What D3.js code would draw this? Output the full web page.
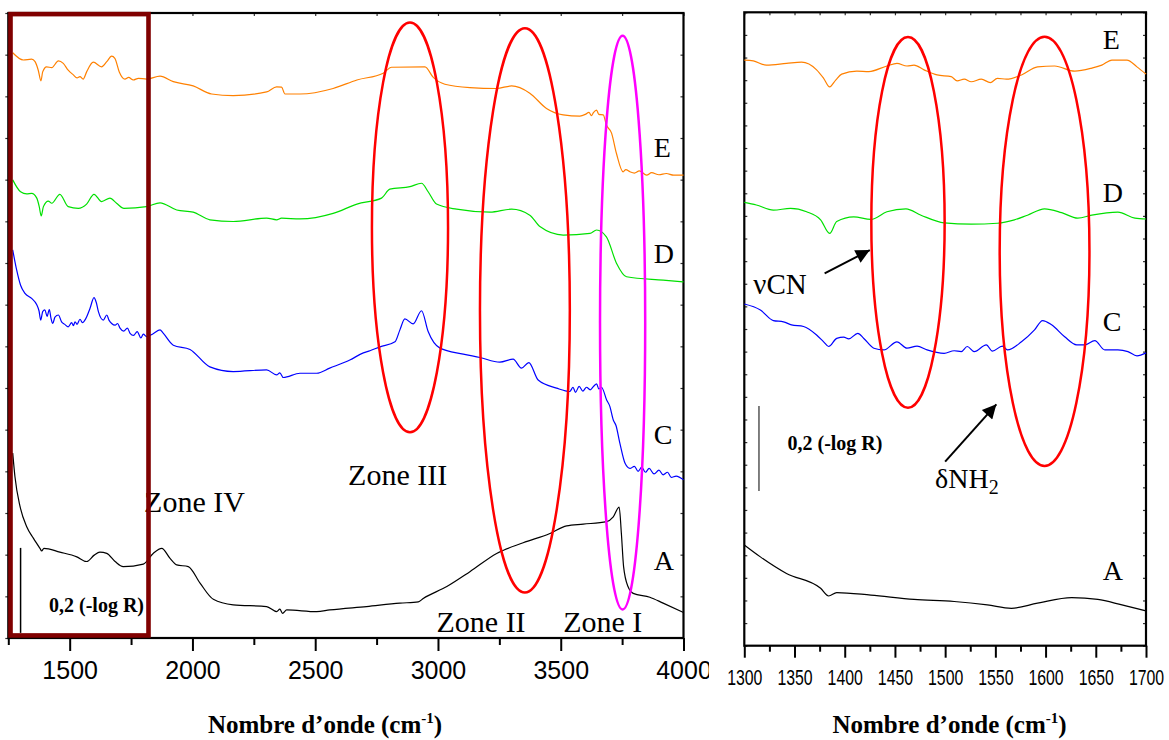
<!DOCTYPE html>
<html><head><meta charset="utf-8">
<script src="https://cdn.jsdelivr.net/npm/d3@7"></script>
<style>body{margin:0;background:#fff}svg{display:block}</style>
</head><body>
<svg id="c" width="1169" height="740"></svg>
<script>
// ---------- DATA (wavenumber cm-1, -log R with arbitrary offsets) ----------
const leftXDomain = [1250, 4000];
const leftYDomain = [0, 1.4706];
const rightXDomain = [1300, 1700];
const rightYDomain = [0, 1.4904];

const leftMajorTicks = [1500, 2000, 2500, 3000, 3500, 4000];
const leftMinorTicks = [1250, 1750, 2250, 2750, 3250, 3750];
const rightMajorTicks = [1300, 1350, 1400, 1450, 1500, 1550, 1600, 1650, 1700];
const rightMinorTicks = [1325, 1375, 1425, 1475, 1525, 1575, 1625, 1675];
const leftYTickCount = 15;
const rightYTickCount = 28;

const seriesNames = ["E", "D", "C", "A"];
const seriesColors = ["#ff8000", "#00e000", "#0000ff", "#000000"];

const fullE = [[1268,1.377],[1311,1.360],[1345,1.362],[1359,1.356],[1372,1.336],[1383,1.311],[1390,1.332],[1406,1.344],[1427,1.342],[1454,1.358],[1474,1.352],[1494,1.336],[1515,1.325],[1530,1.318],[1542,1.321],[1555,1.315],[1569,1.332],[1596,1.355],[1630,1.344],[1651,1.356],[1671,1.369],[1684,1.364],[1702,1.332],[1725,1.315],[1740,1.319],[1759,1.313],[1780,1.317],[1813,1.315],[1868,1.322],[1922,1.309],[2003,1.299],[2078,1.280],[2166,1.276],[2302,1.285],[2343,1.297],[2363,1.296],[2377,1.280],[2438,1.280],[2573,1.293],[2670,1.313],[2777,1.329],[2811,1.343],[2947,1.344],[2981,1.319],[3028,1.303],[3130,1.295],[3239,1.293],[3300,1.299],[3374,1.282],[3442,1.246],[3510,1.231],[3578,1.228],[3600,1.232],[3615,1.237],[3625,1.229],[3633,1.236],[3646,1.242],[3655,1.232],[3673,1.231],[3686,1.207],[3707,1.188],[3727,1.140],[3754,1.097],[3765,1.102],[3782,1.097],[3800,1.094],[3820,1.099],[3850,1.089],[3870,1.095],[3900,1.090],[3930,1.093],[3960,1.089],[4000,1.089]];
const fullD = [[1268,1.078],[1300,1.050],[1325,1.045],[1345,1.046],[1366,1.035],[1376,1.015],[1384,0.993],[1393,1.015],[1413,1.028],[1427,1.023],[1460,1.044],[1494,1.015],[1535,1.011],[1569,1.021],[1599,1.044],[1630,1.027],[1664,1.035],[1691,1.023],[1721,1.011],[1813,1.015],[1868,1.024],[1936,1.007],[2003,1.002],[2071,0.984],[2166,0.980],[2302,0.988],[2343,0.984],[2363,0.988],[2438,0.986],[2573,0.999],[2670,1.021],[2770,1.035],[2804,1.056],[2886,1.062],[2933,1.070],[2960,1.050],[2994,1.021],[3076,1.009],[3212,1.002],[3300,1.009],[3374,0.995],[3415,0.968],[3510,0.948],[3619,0.952],[3646,0.960],[3686,0.944],[3727,0.882],[3768,0.850],[3917,0.842],[4000,0.838]];
const fullC = [[1268,0.913],[1284,0.866],[1300,0.830],[1318,0.811],[1345,0.799],[1366,0.784],[1375,0.770],[1382,0.748],[1390,0.768],[1399,0.772],[1408,0.757],[1417,0.773],[1424,0.752],[1431,0.740],[1440,0.755],[1454,0.760],[1467,0.744],[1480,0.738],[1494,0.732],[1508,0.742],[1515,0.735],[1522,0.744],[1530,0.738],[1542,0.750],[1552,0.742],[1566,0.752],[1583,0.776],[1599,0.801],[1608,0.790],[1617,0.768],[1637,0.748],[1651,0.760],[1660,0.748],[1671,0.740],[1685,0.736],[1695,0.740],[1705,0.729],[1720,0.722],[1735,0.729],[1746,0.717],[1760,0.712],[1775,0.721],[1790,0.706],[1800,0.715],[1813,0.709],[1840,0.716],[1868,0.725],[1880,0.718],[1922,0.689],[1990,0.679],[2071,0.638],[2166,0.627],[2302,0.631],[2343,0.619],[2356,0.624],[2370,0.613],[2438,0.623],[2506,0.623],[2559,0.635],[2641,0.654],[2696,0.671],[2723,0.676],[2764,0.685],[2825,0.697],[2845,0.725],[2865,0.751],[2899,0.739],[2933,0.770],[2960,0.721],[3008,0.682],[3103,0.668],[3171,0.660],[3252,0.649],[3306,0.656],[3340,0.635],[3370,0.648],[3408,0.607],[3483,0.588],[3537,0.580],[3550,0.590],[3560,0.578],[3575,0.592],[3590,0.581],[3605,0.590],[3620,0.584],[3635,0.593],[3646,0.598],[3655,0.586],[3666,0.590],[3687,0.560],[3700,0.545],[3714,0.513],[3725,0.500],[3741,0.458],[3762,0.411],[3782,0.399],[3800,0.404],[3815,0.392],[3830,0.402],[3845,0.390],[3860,0.399],[3880,0.386],[3900,0.395],[3917,0.384],[3935,0.390],[3950,0.378],[3970,0.381],[4000,0.372]];
const fullA = [[1268,0.435],[1277,0.380],[1298,0.309],[1325,0.262],[1352,0.235],[1379,0.211],[1386,0.205],[1395,0.211],[1460,0.202],[1529,0.191],[1569,0.180],[1600,0.195],[1623,0.202],[1651,0.199],[1685,0.180],[1718,0.168],[1800,0.174],[1840,0.199],[1875,0.211],[1908,0.188],[1936,0.172],[1983,0.168],[2031,0.129],[2085,0.091],[2166,0.078],[2302,0.074],[2343,0.062],[2356,0.068],[2367,0.058],[2384,0.066],[2506,0.062],[2559,0.066],[2709,0.074],[2845,0.082],[2920,0.085],[2940,0.093],[3036,0.121],[3130,0.156],[3239,0.199],[3347,0.224],[3456,0.246],[3524,0.264],[3592,0.268],[3687,0.274],[3714,0.285],[3738,0.308],[3747,0.246],[3756,0.168],[3774,0.121],[3795,0.105],[3863,0.096],[3917,0.082],[4000,0.060]];

const zoomE = [[1300,1.378],[1309,1.376],[1322,1.366],[1342,1.370],[1357,1.373],[1372,1.355],[1379,1.335],[1385,1.315],[1391,1.331],[1397,1.345],[1412,1.352],[1424,1.351],[1442,1.364],[1452,1.370],[1462,1.364],[1469,1.366],[1479,1.355],[1492,1.343],[1506,1.339],[1512,1.329],[1519,1.333],[1526,1.327],[1536,1.333],[1545,1.325],[1552,1.335],[1561,1.333],[1576,1.343],[1592,1.362],[1609,1.364],[1629,1.352],[1646,1.359],[1656,1.366],[1666,1.378],[1681,1.378],[1691,1.362],[1700,1.345]];
const zoomD = [[1300,1.043],[1312,1.037],[1329,1.025],[1346,1.029],[1362,1.021],[1376,1.002],[1385,0.970],[1392,0.998],[1409,1.009],[1426,1.003],[1442,1.021],[1461,1.028],[1476,1.013],[1499,0.995],[1526,0.992],[1552,0.994],[1569,1.002],[1582,1.013],[1599,1.028],[1616,1.019],[1632,1.006],[1646,1.013],[1672,1.020],[1689,1.006],[1700,1.004]];
const zoomC = [[1300,0.804],[1316,0.790],[1329,0.765],[1339,0.762],[1347,0.755],[1359,0.751],[1372,0.731],[1379,0.715],[1384,0.704],[1392,0.723],[1399,0.726],[1404,0.722],[1413,0.735],[1419,0.723],[1429,0.700],[1439,0.696],[1452,0.715],[1462,0.700],[1472,0.705],[1482,0.696],[1499,0.688],[1509,0.694],[1516,0.692],[1522,0.704],[1529,0.692],[1541,0.708],[1547,0.693],[1557,0.705],[1562,0.696],[1576,0.715],[1589,0.743],[1597,0.765],[1606,0.755],[1619,0.727],[1631,0.708],[1639,0.708],[1649,0.718],[1659,0.696],[1672,0.696],[1682,0.692],[1691,0.682],[1700,0.689]];
const zoomA = [[1300,0.237],[1316,0.209],[1342,0.170],[1376,0.135],[1384,0.117],[1392,0.125],[1426,0.119],[1469,0.109],[1509,0.104],[1542,0.096],[1566,0.088],[1592,0.100],[1626,0.113],[1652,0.109],[1676,0.096],[1700,0.082]];

// annotations in data units
const leftLetterPos = [[3879,1.132],[3879,0.882],[3879,0.456],[3879,0.160]];
const rightLetterPos = [[1657,1.403],[1657,1.043],[1657,0.741],[1657,0.155]];
const zoneLabels = ["Zone IV", "Zone III", "Zone II", "Zone I"];
const zonePos = [[1803,0.297],[2634,0.360],[2994,0.015],[3510,0.015]];
// ellipses: [centre wavenumber, centre value, half-width wn, half-height value]
const leftEllipses = [[2886,0.966,155,0.482],[3354,0.771,183,0.664],[3752,0.742,92,0.675]];
const leftEllipseColors = ["#ff0000", "#ff0000", "#ff00ff"];
const rightEllipses = [[1463,0.996,36.5,0.436],[1599,0.928,44.7,0.505]];
const scaleBarLength = 0.2;

// ---------- DRAW ----------
const svg = d3.select("#c");
const serif = "'Liberation Serif','Times New Roman',serif";
const sans = "'Liberation Sans',Arial,sans-serif";

const defs = svg.append("defs");
defs.append("clipPath").attr("id", "clipL").append("rect")
  .attr("x", 0).attr("y", 0).attr("width", 709).attr("height", 740);
defs.append("marker").attr("id", "arr").attr("viewBox", "0 0 10 10")
  .attr("refX", 10).attr("refY", 5).attr("markerWidth", 16).attr("markerHeight", 14)
  .attr("markerUnits", "userSpaceOnUse").attr("orient", "auto")
  .append("path").attr("d", "M0,0 L10,5 L0,10 Z").attr("fill", "#000");

const xL = d3.scaleLinear().domain(leftXDomain).range([8.3, 683.5]);
const yL = d3.scaleLinear().domain(leftYDomain).range([638, 13]);
const xR = d3.scaleLinear().domain(rightXDomain).range([744.3, 1146]);
const yR = d3.scaleLinear().domain(rightYDomain).range([645.7, 12.3]);

function panel(g, x, y, o) {
  const [x0, x1] = x.range(), [y0, y1] = y.range();
  const yTicks = d3.range(o.yCount + 1).map(i => y.domain()[1] * i / o.yCount);
  const gMin = g.append("g").attr("transform", `translate(0,${y0})`)
    .call(d3.axisBottom(x).tickValues(o.minor).tickSize(o.minLen).tickFormat(""));
  const gMaj = g.append("g").attr("transform", `translate(0,${y0})`)
    .call(d3.axisBottom(x).tickValues(o.major).tickSize(o.majLen).tickPadding(o.pad).tickFormat(d3.format("d")));
  [gMin, gMaj].forEach(a => { a.select(".domain").remove(); a.selectAll("line").attr("stroke", "#000").attr("stroke-width", 2); });
  gMaj.selectAll("text").attr("font-family", sans).attr("font-size", o.fs).attr("fill", "#000");
  if (o.narrow) gMaj.selectAll("text").attr("transform", `scale(${o.narrow},1)`);
  const gTop = g.append("g").attr("transform", `translate(0,${y1})`)
    .call(d3.axisTop(x).tickValues(o.minor.concat(o.major)).tickSize(-3).tickFormat(""));
  const gLeft = g.append("g").attr("transform", `translate(${x0},0)`)
    .call(d3.axisLeft(y).tickValues(yTicks).tickSize(o.leftOut ? 3 : -3).tickFormat(""));
  const gRight = g.append("g").attr("transform", `translate(${x1},0)`)
    .call(d3.axisRight(y).tickValues(yTicks).tickSize(-3).tickFormat(""));
  [gTop, gLeft, gRight].forEach(a => { a.select(".domain").remove(); a.selectAll("line").attr("stroke", "#333").attr("stroke-width", 1.2); });
  g.append("rect").attr("x", x0).attr("y", y1).attr("width", x1 - x0).attr("height", y0 - y1)
    .attr("fill", "none").attr("stroke", "#000").attr("stroke-width", 2.2);
  const line = d3.line().x(d => x(d[0])).y(d => y(d[1])).curve(d3.curveMonotoneX);
  o.series.forEach((s, i) => {
    g.append("path").datum(s).attr("d", line).attr("fill", "none")
      .attr("stroke", seriesColors[i]).attr("stroke-width", 1.2).attr("stroke-linejoin", "round");
  });
  o.letters.forEach((p, i) => {
    g.append("text").attr("x", x(p[0])).attr("y", y(p[1])).text(seriesNames[i])
      .attr("font-family", serif).attr("font-size", 28).attr("fill", "#000");
  });
  o.ellipses.forEach((e, i) => {
    g.append("ellipse").attr("cx", x(e[0])).attr("cy", y(e[1]))
      .attr("rx", x(e[0] + e[2]) - x(e[0])).attr("ry", y(e[1] - e[3]) - y(e[1]))
      .attr("fill", "none").attr("stroke", o.ellColors[i]).attr("stroke-width", 2.5);
  });
  g.append("line").attr("x1", x(o.bar[0])).attr("x2", x(o.bar[0]))
    .attr("y1", y(o.bar[1])).attr("y2", y(o.bar[1] + scaleBarLength))
    .attr("stroke", o.barColor).attr("stroke-width", 1.5);
  g.append("text").attr("x", x(o.barLabel[0])).attr("y", y(o.barLabel[1]))
    .text("0,2 (-log R)").attr("font-family", serif).attr("font-weight", "bold")
    .attr("font-size", 20).attr("fill", "#000");
  const t = g.append("text").attr("x", o.titleX).attr("y", 733).attr("text-anchor", "middle")
    .attr("font-family", serif).attr("font-weight", "bold").attr("font-size", 25).attr("fill", "#000");
  t.append("tspan").text("Nombre d\u2019onde (cm");
  t.append("tspan").attr("dy", -10).attr("font-size", 15).text("-1");
  t.append("tspan").attr("dy", 10).text(")");
}

const gl = svg.append("g").attr("clip-path", "url(#clipL)");
panel(gl, xL, yL, {
  major: leftMajorTicks, minor: leftMinorTicks, minLen: 7, majLen: 13, pad: 10.7, fs: 25,
  yCount: leftYTickCount, leftOut: true,
  series: [fullE, fullD, fullC, fullA], letters: leftLetterPos,
  ellipses: leftEllipses, ellColors: leftEllipseColors,
  bar: [1300, 0.012], barColor: "#000", barLabel: [1416, 0.062], titleX: 325
});
zoneLabels.forEach((z, i) => {
  gl.append("text").attr("x", xL(zonePos[i][0])).attr("y", yL(zonePos[i][1])).text(z)
    .attr("font-family", serif).attr("font-size", 30).attr("fill", "#000");
});
gl.append("rect").attr("x", xL(1259)).attr("y", yL(1.468))
  .attr("width", xL(1821) - xL(1259)).attr("height", yL(0.006) - yL(1.468))
  .attr("fill", "none").attr("stroke", "#800000").attr("stroke-width", 4.6);

const gr = svg.append("g");
panel(gr, xR, yR, {
  major: rightMajorTicks, minor: rightMinorTicks, minLen: 6, majLen: 12, pad: 11.3, fs: 22, narrow: 0.72,
  yCount: rightYTickCount, leftOut: false,
  series: [zoomE, zoomD, zoomC, zoomA], letters: rightLetterPos,
  ellipses: rightEllipses, ellColors: ["#ff0000", "#ff0000"],
  bar: [1314.6, 0.364], barColor: "#555", barLabel: [1343, 0.460], titleX: 949.5
});
gr.append("text").attr("x", xR(1309)).attr("y", yR(0.828)).text("\u03BDCN")
  .attr("font-family", serif).attr("font-size", 29).attr("fill", "#000");
gr.append("line").attr("x1", xR(1380)).attr("y1", yR(0.876)).attr("x2", xR(1425)).attr("y2", yR(0.931))
  .attr("stroke", "#000").attr("stroke-width", 2).attr("marker-end", "url(#arr)");
const dn = gr.append("text").attr("x", xR(1490)).attr("y", yR(0.370))
  .attr("font-family", serif).attr("font-size", 28).attr("fill", "#000");
dn.append("tspan").text("\u03B4NH");
dn.append("tspan").attr("dy", 6).attr("font-size", 20).text("2");
gr.append("line").attr("x1", xR(1500)).attr("y1", yR(0.433)).attr("x2", xR(1551)).attr("y2", yR(0.568))
  .attr("stroke", "#000").attr("stroke-width", 2).attr("marker-end", "url(#arr)");
</script>
</body></html>
